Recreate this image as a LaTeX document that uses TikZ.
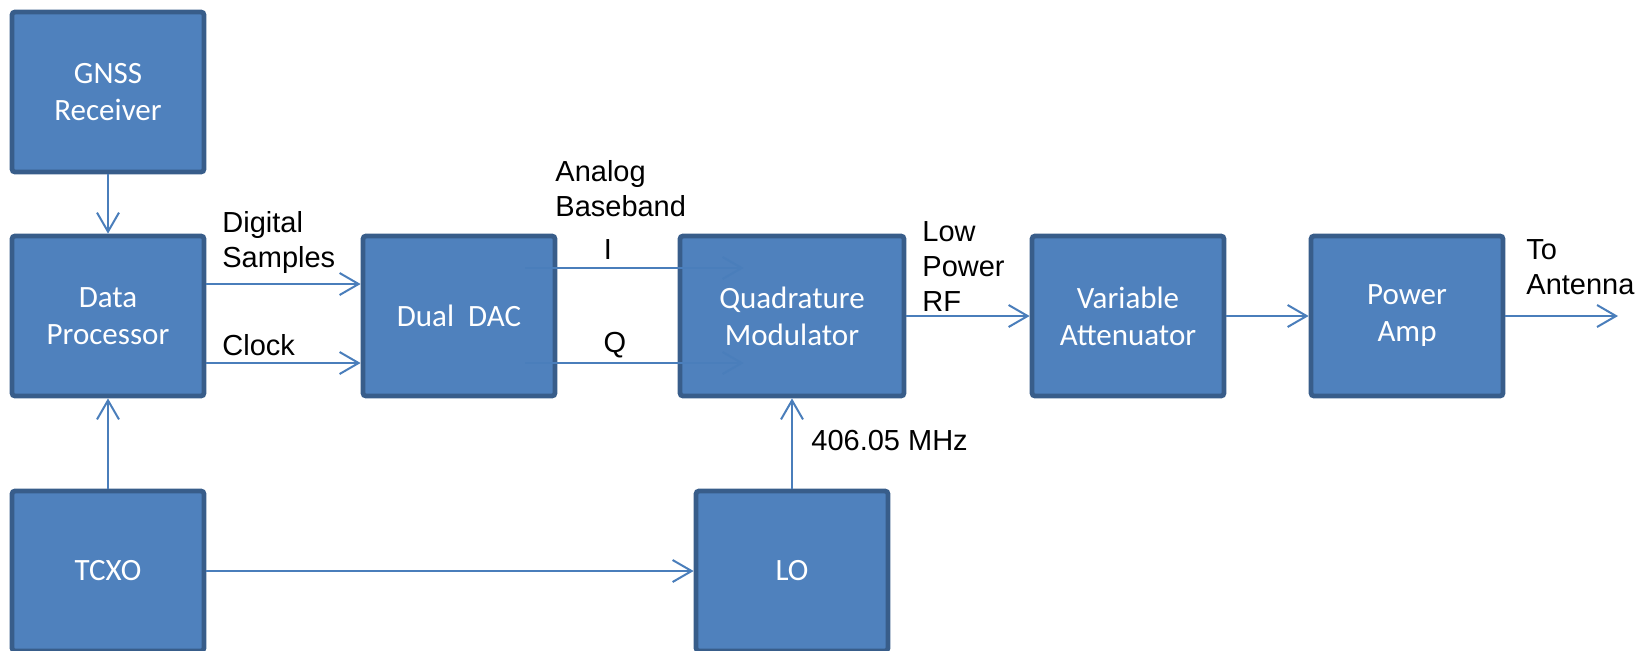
\documentclass[tikz,border=0pt]{standalone}
\usepackage{fontspec}
\setmainfont{Liberation Sans}
\newfontfamily\calibri{Carlito}
\usetikzlibrary{arrows.meta}
\definecolor{blkfill}{HTML}{4F81BD}
\definecolor{blkline}{HTML}{385D8A}
\definecolor{wire}{HTML}{4A7EBB}
\begin{document}
\begin{tikzpicture}[x=0.5pt,y=-0.5pt,>={Straight Barb[length=9.5pt,width=11pt]},
		blk/.style={draw=blkline,fill=blkfill,line width=2.4pt,rounded corners=1.5pt,minimum width=96pt,minimum height=80pt,inner sep=0pt,text=white,align=center,font=\calibri\fontsize{15.5}{18.5}\selectfont},
		wideblk/.style={blk,minimum width=112pt},
		sig/.style={->,draw=wire,line width=1pt},
		lbl/.style={inner sep=0pt,align=left,anchor=west,font=\fontsize{14.5}{17.5}\selectfont}]
	\useasboundingbox (0,0) rectangle (1641,650);
	% blocks
	\node[blk] (gnss) at (108,92) {GNSS\\Receiver};
	\node[blk] (dp) at (108,316) {Data\\Processor};
	\node[blk] (tcxo) at (108,571) {TCXO};
	\node[blk] (dac) at (459,316) {Dual\ \ DAC};
	\node[wideblk] (qm) at (792,316) {Quadrature\\Modulator};
	\node[blk] (lo) at (792,571) {LO};
	\node[blk] (va) at (1128,316) {Variable\\Attenuator};
	\node[blk] (pa) at (1407,316) {Power\\Amp};
	\coordinate (ant) at (1618,316);
	% signals
	\draw[sig] (gnss) -- (dp);
	\draw[sig] (tcxo) -- (dp);
	\draw[sig] ([yshift=16pt]dp.east) -- ([yshift=16pt]dac.west);
	\draw[sig] ([yshift=-23.5pt]dp.east) -- ([yshift=-23.5pt]dac.west);
	\draw[sig] ([xshift=-16pt,yshift=24pt]dac.east) -- ([xshift=33pt,yshift=24pt]qm.west);
	\draw[sig] ([xshift=-16pt,yshift=-23.5pt]dac.east) -- ([xshift=33pt,yshift=-23.5pt]qm.west);
	\draw[sig] (tcxo) -- (lo);
	\draw[sig] (lo) -- (qm);
	\draw[sig] (qm) -- (va);
	\draw[sig] (va) -- (pa);
	\draw[sig] (pa) -- (ant);
	% labels
	\node[lbl] (samples) at (222,242) {Digital\\Samples};
	\node[lbl] (clock) at (222,345) {Clock};
	\node[lbl] (analog) at (555,189) {Analog\\Baseband};
	\node[lbl,anchor=center] (ich) at (608,250) {I};
	\node[lbl,anchor=center] (qch) at (615,345) {Q};
	\node[lbl] (rf) at (922,267) {Low\\Power\\RF};
	\node[lbl] (freq) at (811,441) {406.05 MHz};
	\node[lbl] (toant) at (1526,267) {To\\Antenna};
\end{tikzpicture}
\end{document}
